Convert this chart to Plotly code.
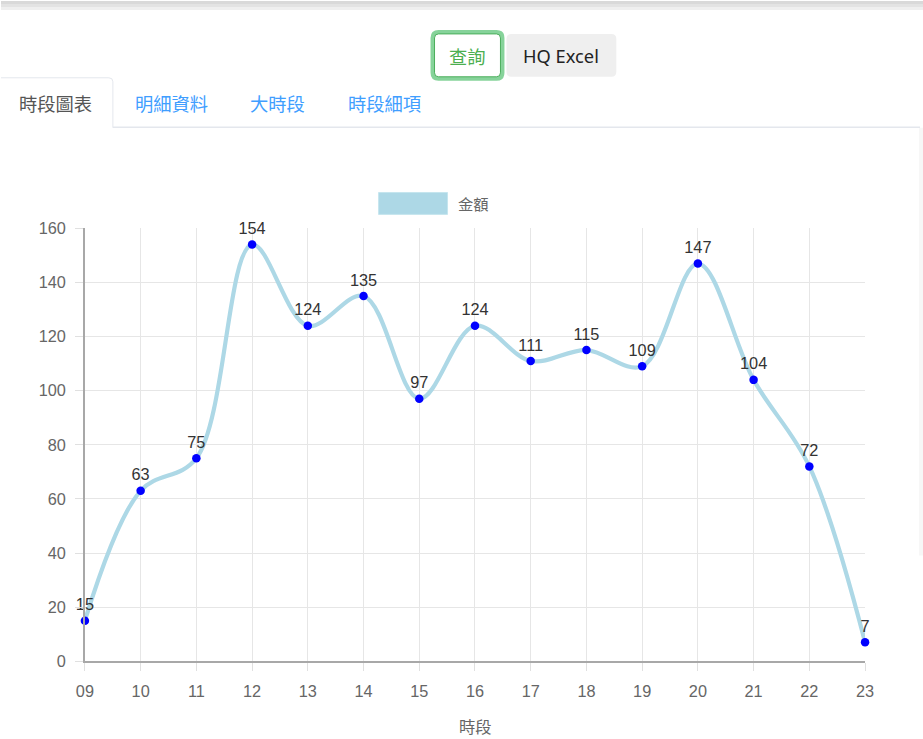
import plotly.graph_objects as go

# ---- data ----
hours = ["09", "10", "11", "12", "13", "14", "15", "16", "17", "18", "19", "20", "21", "22", "23"]
amounts = [15, 63, 75, 154, 124, 135, 97, 124, 111, 115, 109, 147, 104, 72, 7]
y_ticks = [0, 20, 40, 60, 80, 100, 120, 140, 160]
tab_labels = ["時段圖表", "明細資料", "大時段", "時段細項"]
series_name = "金額"
x_title = "時段"

# target picture coordinates are 923x739; the figure fills the whole frame
RW, RH = 923, 739
W, H = 940, 755
K = W / RW  # scale for font sizes / line widths
FONT = "Liberation Sans, Arial, Noto Sans CJK TC, sans-serif"
CJK = "Noto Sans CJK TC, Noto Sans CJK SC, sans-serif"


def px(x):
    return x / RW


def py(y):
    return 1 - y / RH


def fs(s):
    return round(s * K, 1)


def rrect(x0, y0, x1, y1, r):
    rx, ry = r / RW, r / RH
    X0, X1 = px(x0), px(x1)
    Y0, Y1 = py(y0), py(y1)  # Y0 top (bigger), Y1 bottom
    return (f"M {X0+rx},{Y0} L {X1-rx},{Y0} Q {X1},{Y0} {X1},{Y0-ry} "
            f"L {X1},{Y1+ry} Q {X1},{Y1} {X1-rx},{Y1} L {X0+rx},{Y1} "
            f"Q {X0},{Y1} {X0},{Y1+ry} L {X0},{Y0-ry} Q {X0},{Y0} {X0+rx},{Y0} Z")


def label(x, y, text, family, size, color, xanchor="center"):
    return dict(x=px(x), y=py(y), xref="paper", yref="paper", text=text, showarrow=False,
                xanchor=xanchor, yanchor="middle", font=dict(family=family, size=fs(size), color=color))


fig = go.Figure()
fig.add_trace(go.Scatter(
    x=hours, y=amounts, mode="lines+markers+text",
    line=dict(color="#add8e6", width=4.2, shape="spline", smoothing=1.0),
    marker=dict(color="#0000ff", size=8.5),
    text=[str(v) for v in amounts], textposition="top center",
    textfont=dict(family=FONT, size=fs(16), color="#333333"),
    cliponaxis=False, showlegend=False, name=series_name,
))

shapes = []
annos = []
# top gray strip
for (a, b, c) in [(0, 3, "#d9d9d9"), (3, 6, "#e3e3e3"), (6, 9, "#efefef")]:
    shapes.append(dict(type="rect", xref="paper", yref="paper", x0=0, x1=1, y0=py(b), y1=py(a),
                       fillcolor=c, line=dict(width=0), layer="below"))
# right faint strip
shapes.append(dict(type="rect", xref="paper", yref="paper", x0=px(919), x1=1, y0=py(556), y1=py(127),
                   fillcolor="#f7f7f7", line=dict(width=0), layer="below"))
# buttons
shapes.append(dict(type="path", xref="paper", yref="paper", path=rrect(506, 33, 616, 76, 5),
                   fillcolor="#efefef", line=dict(width=0), layer="below"))
shapes.append(dict(type="path", xref="paper", yref="paper", path=rrect(432, 31, 502, 78, 6),
                   fillcolor="#ffffff", line=dict(color="#86d39a", width=4), layer="below"))
shapes.append(dict(type="path", xref="paper", yref="paper", path=rrect(434, 33, 500, 76, 4),
                   fillcolor="rgba(0,0,0,0)", line=dict(color="#4cae5c", width=1), layer="below"))
annos.append(label(467, 55, "查詢", CJK, 18, "#4caf50"))
annos.append(label(561, 55, "HQ Excel", "Noto Sans, Liberation Sans, sans-serif", 18, "#222222"))
# tabs
tab_line = "#e4e7ed"
shapes.append(dict(type="path", xref="paper", yref="paper",
                   path=f"M 0,{py(77)} L {px(108)},{py(77)} Q {px(112)},{py(77)} {px(112)},{py(81)} L {px(112)},{py(127)}",
                   line=dict(color=tab_line, width=1), layer="below"))
shapes.append(dict(type="line", xref="paper", yref="paper", x0=px(112), x1=px(920), y0=py(126.5), y1=py(126.5),
                   line=dict(color=tab_line, width=1.5), layer="below"))
tab_x = [55, 171, 277, 384]
for i, (lab, tx) in enumerate(zip(tab_labels, tab_x)):
    annos.append(label(tx, 102, lab, CJK, 18, "#555555" if i == 0 else "#409eff"))
# legend
shapes.append(dict(type="rect", xref="paper", yref="paper", x0=px(378), x1=px(447), y0=py(214), y1=py(192),
                   fillcolor="#add8e6", line=dict(color="#c5e5ee", width=1), layer="below"))
annos.append(label(455, 203, series_name, CJK, 15, "#666666", xanchor="left"))
# x title
annos.append(label(475, 727, x_title, CJK, 16, "#666666"))

axis_common = dict(showgrid=True, gridcolor="#e6e6e6", gridwidth=1,
                   showline=True, linecolor="#a8a8a8", linewidth=1.5,
                   ticks="outside", ticklen=8, tickcolor="#e0e0e0",
                   tickfont=dict(family=FONT, size=fs(16), color="#666666"), ticklabelstandoff=6,
                   zeroline=False, fixedrange=True)
fig.update_layout(
    width=W, height=H, margin=dict(l=0, r=0, t=0, b=0),
    paper_bgcolor="#ffffff", plot_bgcolor="#ffffff",
    shapes=shapes, annotations=annos, showlegend=False,
    xaxis=dict(domain=[px(84), px(865)], type="category", range=[0, len(hours) - 1], **axis_common),
    yaxis=dict(domain=[py(662), py(228)], range=[0, 160], tickvals=y_ticks, **axis_common),
)
post = ("document.body.style.margin='0';document.body.style.padding='0';"
        "var gd=document.getElementById('{plot_id}');"
        "gd.style.position='fixed';gd.style.left='-8px';gd.style.top='-8px';")
fig.write_html("out.html", config={"displayModeBar": False}, post_script=post)
